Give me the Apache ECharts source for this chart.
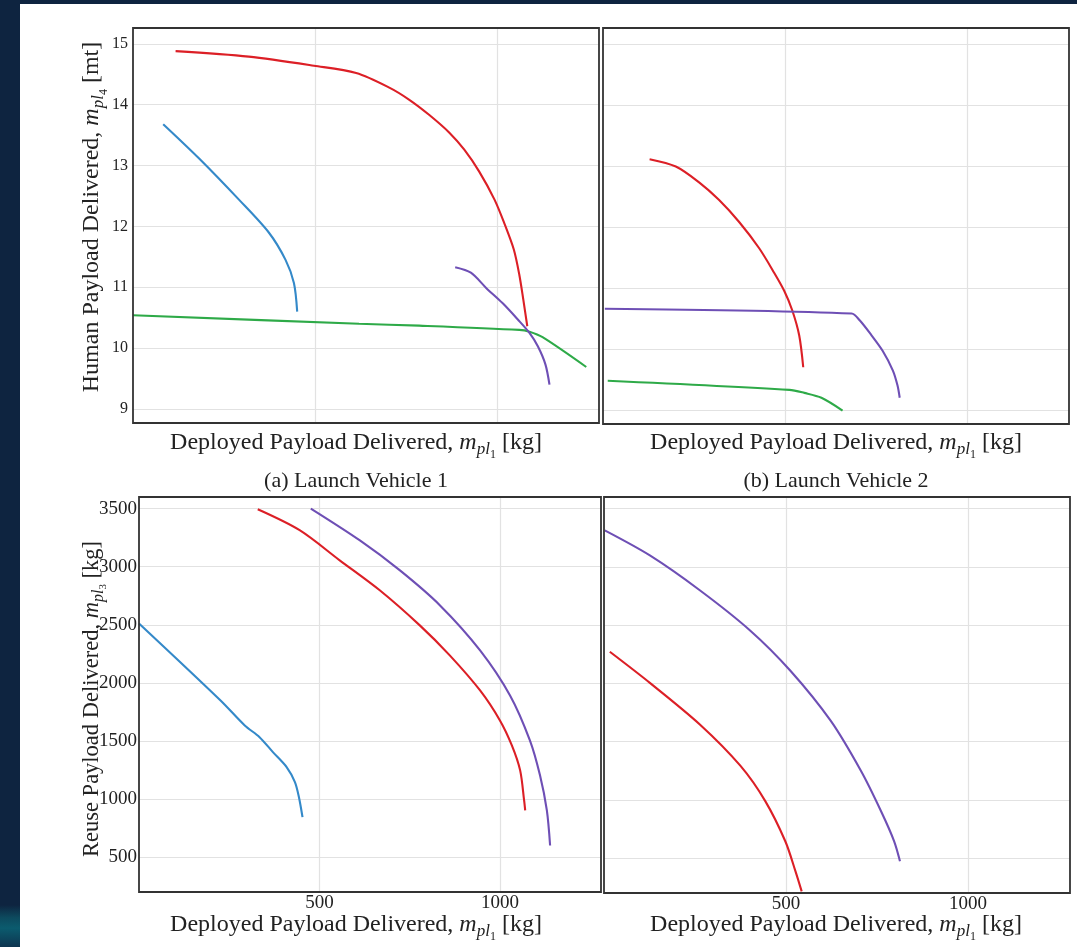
<!DOCTYPE html>
<html>
<head>
<meta charset="utf-8">
<script src="https://cdn.jsdelivr.net/npm/echarts@6/dist/echarts.min.js"></script>
<style>
  html, body { margin: 0; padding: 0; width: 1077px; height: 947px; overflow: hidden; background: #0e2440; }
  #panel { position: absolute; left: 20px; top: 4px; width: 1057px; height: 943px; background: #ffffff; }
  #deco { position: absolute; left: 0; top: 905px; width: 20px; height: 42px;
          background: linear-gradient(180deg, #0e2440 0%, #0d4a5e 30%, #0b5b6e 55%, #0e3550 100%); }
  #chart { position: absolute; left: 0; top: 0; width: 1077px; height: 947px; }
</style>
</head>
<body>
<div id="panel"></div>
<div id="deco"></div>
<div id="chart"></div>
<script>
// ---------------- data ----------------
// Launch Vehicle 1 : human payload [mt] vs deployed payload [kg]
const lv1HumanRed    = [[117,14.88],[318,14.79],[497,14.64],[613,14.52],[704,14.28],[759,14.08],[814,13.83],[869,13.54],[910,13.26],[951,12.90],[993,12.44],[1020,12.05],[1046,11.62],[1061,11.21],[1072,10.80],[1083,10.36]];
const lv1HumanBlue   = [[83,13.68],[181,13.12],[291,12.44],[373,11.90],[419,11.45],[442,11.07],[451,10.60]];
const lv1HumanGreen  = [[0,10.54],[621,10.40],[786,10.37],[1061,10.30],[1089,10.27],[1125,10.18],[1245,9.69]];
const lv1HumanPurple = [[885,11.33],[928,11.24],[970,10.99],[1015,10.74],[1057,10.47],[1089,10.25],[1112,10.03],[1133,9.73],[1144,9.40]];
// Launch Vehicle 2 : human payload [mt] vs deployed payload [kg]
const lv2HumanRed    = [[128,13.11],[200,12.99],[264,12.73],[319,12.44],[374,12.08],[429,11.65],[470,11.25],[498,10.95],[520,10.63],[539,10.22],[550,9.70]];
const lv2HumanPurple = [[5,10.66],[683,10.58],[705,10.47],[738,10.22],[768,9.97],[796,9.65],[809,9.40],[815,9.20]];
const lv2HumanGreen  = [[13,9.48],[512,9.33],[553,9.28],[600,9.20],[658,8.99]];
// Launch Vehicle 1 : reuse payload [kg] vs deployed payload [kg]
const lv1ReuseBlue   = [[0,2512],[226,1849],[293,1634],[334,1533],[371,1404],[409,1275],[432,1146],[443,1017],[453,844]];
const lv1ReuseRed    = [[329,3494],[445,3314],[556,3055],[667,2797],[778,2495],[861,2237],[945,1935],[1000,1677],[1033,1462],[1056,1247],[1067,988],[1070,902]];
const lv1ReusePurple = [[476,3500],[612,3226],[723,2968],[834,2667],[945,2280],[1028,1892],[1083,1505],[1111,1204],[1130,902],[1139,600]];
// Launch Vehicle 2 : reuse payload [kg] vs deployed payload [kg]
const lv2ReusePurple = [[2,3313],[126,3098],[264,2797],[402,2452],[512,2108],[623,1677],[706,1247],[761,902],[797,644],[813,472]];
const lv2ReuseRed    = [[16,2271],[126,2004],[264,1645],[375,1291],[443,989],[498,644],[526,386],[543,214]];

// axis extents / tick labels
const xRange = [0, 1280];
const xTicks = [500, 1000];
const humanRange = [8.77, 15.26];
const humanTicks = [9, 10, 11, 12, 13, 14, 15];
const reuseRange = [200, 3600];
const reuseTicks = [500, 1000, 1500, 2000, 2500, 3000, 3500];

const captions = ['(a) Launch Vehicle 1', '(b) Launch Vehicle 2'];

// ---------------- styling ----------------
const FONT = '"Liberation Serif", "DejaVu Serif", serif';
const TXT = '#222222';
const C = { red: '#dc1f26', blue: '#3489c9', green: '#2eaa48', purple: '#6e4fb5' };

const gridBoxes = [
  { left: 133, top: 28, width: 466, height: 395 },
  { left: 603, top: 28, width: 466, height: 396 },
  { left: 139, top: 497, width: 462, height: 395 },
  { left: 604, top: 497, width: 466, height: 396 }
];
const grids = gridBoxes.map(g => Object.assign({}, g, { show: true, backgroundColor: '#ffffff', borderWidth: 0 }));

const splitLine = { show: true, showMinLine: false, showMaxLine: false, lineStyle: { color: '#e2e2e2', width: 1.2 } };

function xAxis(i, showLabels) {
  return {
    type: 'value', gridIndex: i, min: xRange[0], max: xRange[1], interval: 500,
    axisLine: { show: false }, axisTick: { show: false }, splitLine,
    axisLabel: {
      show: showLabels, margin: 2, fontFamily: FONT, fontSize: 19, color: TXT,
      formatter: v => (xTicks.indexOf(v) >= 0 ? String(v) : '')
    }
  };
}
function yAxis(i, range, ticks, splitNumber, showLabels, fs, margin) {
  return {
    type: 'value', gridIndex: i, min: range[0], max: range[1], splitNumber,
    axisLine: { show: false }, axisTick: { show: false }, splitLine,
    axisLabel: {
      show: showLabels, margin, fontFamily: FONT, fontSize: fs, color: TXT,
      formatter: v => (ticks.indexOf(Math.round(v * 1000) / 1000) >= 0 ? String(v) : '')
    }
  };
}

function line(data, color, xi, name) {
  return {
    type: 'line', name, data, xAxisIndex: xi, yAxisIndex: xi,
    showSymbol: false, symbol: 'none', smooth: 0.3,
    lineStyle: { color, width: 2.1 }, itemStyle: { color }, z: 3
  };
}

function makeRich(fs) {
  return {
    r:  { fontFamily: FONT, fontSize: fs, color: TXT, lineHeight: fs + 2 },
    i:  { fontFamily: FONT, fontSize: fs, color: TXT, fontStyle: 'italic', lineHeight: fs + 2 },
    s:  { fontFamily: FONT, fontSize: Math.round(fs * 0.7), color: TXT, fontStyle: 'italic', lineHeight: Math.round(fs * 0.7), padding: [Math.round(fs * 0.6), 0, 0, 0] },
    ss: { fontFamily: FONT, fontSize: Math.round(fs * 0.5), color: TXT, lineHeight: Math.round(fs * 0.5), padding: [Math.round(fs * 1.0), 0, 0, 0] }
  };
}
const xName = '{r|Deployed Payload Delivered, }{i|m}{s|pl}{ss|1}{r| [kg]}';
const yHumanName = '{r|Human Payload Delivered, }{i|m}{s|pl}{ss|4}{r| [mt]}';
const yReuseName = '{r|Reuse Payload Delivered, }{i|m}{s|pl}{ss|3}{r| [kg]}';

function label(text, x, y, fs, rot) {
  return {
    type: 'text', x, y, rotation: rot || 0, z: 50,
    style: { text, rich: makeRich(fs), align: 'center', verticalAlign: 'middle', fontFamily: FONT, fontSize: fs, fill: TXT }
  };
}
function caption(text, x, y) {
  return {
    type: 'text', x, y, z: 50,
    style: { text, align: 'center', verticalAlign: 'middle', fontFamily: FONT, fontSize: 22, fill: TXT }
  };
}
function frame(g) {
  return {
    type: 'rect', z: 40, silent: true,
    shape: { x: g.left, y: g.top, width: g.width, height: g.height },
    style: { fill: 'none', stroke: '#333333', lineWidth: 1.8 }
  };
}

const chart = echarts.init(document.getElementById('chart'), null, { renderer: 'canvas' });
chart.setOption({
  backgroundColor: 'transparent',
  animation: false,
  grid: grids,
  xAxis: [xAxis(0, false), xAxis(1, false), xAxis(2, true), xAxis(3, true)],
  yAxis: [
    yAxis(0, humanRange, humanTicks, 6, true, 16, 5),
    yAxis(1, humanRange, humanTicks, 6, false, 16, 5),
    yAxis(2, reuseRange, reuseTicks, 7, true, 19, 2),
    yAxis(3, reuseRange, reuseTicks, 7, false, 19, 2)
  ],
  series: [
    line(lv1HumanGreen, C.green, 0, 'LV1 human green'),
    line(lv1HumanBlue, C.blue, 0, 'LV1 human blue'),
    line(lv1HumanRed, C.red, 0, 'LV1 human red'),
    line(lv1HumanPurple, C.purple, 0, 'LV1 human purple'),
    line(lv2HumanGreen, C.green, 1, 'LV2 human green'),
    line(lv2HumanRed, C.red, 1, 'LV2 human red'),
    line(lv2HumanPurple, C.purple, 1, 'LV2 human purple'),
    line(lv1ReuseBlue, C.blue, 2, 'LV1 reuse blue'),
    line(lv1ReuseRed, C.red, 2, 'LV1 reuse red'),
    line(lv1ReusePurple, C.purple, 2, 'LV1 reuse purple'),
    line(lv2ReuseRed, C.red, 3, 'LV2 reuse red'),
    line(lv2ReusePurple, C.purple, 3, 'LV2 reuse purple')
  ],
  graphic: gridBoxes.map(frame).concat([
    label(xName, 356, 443, 24),
    label(xName, 836, 443, 24),
    label(xName, 356, 925, 24),
    label(xName, 836, 925, 24),
    label(yHumanName, 92, 217, 24, Math.PI / 2),
    label(yReuseName, 92, 699, 22.5, Math.PI / 2),
    caption(captions[0], 356, 481),
    caption(captions[1], 836, 481)
  ])
});
</script>
</body>
</html>
